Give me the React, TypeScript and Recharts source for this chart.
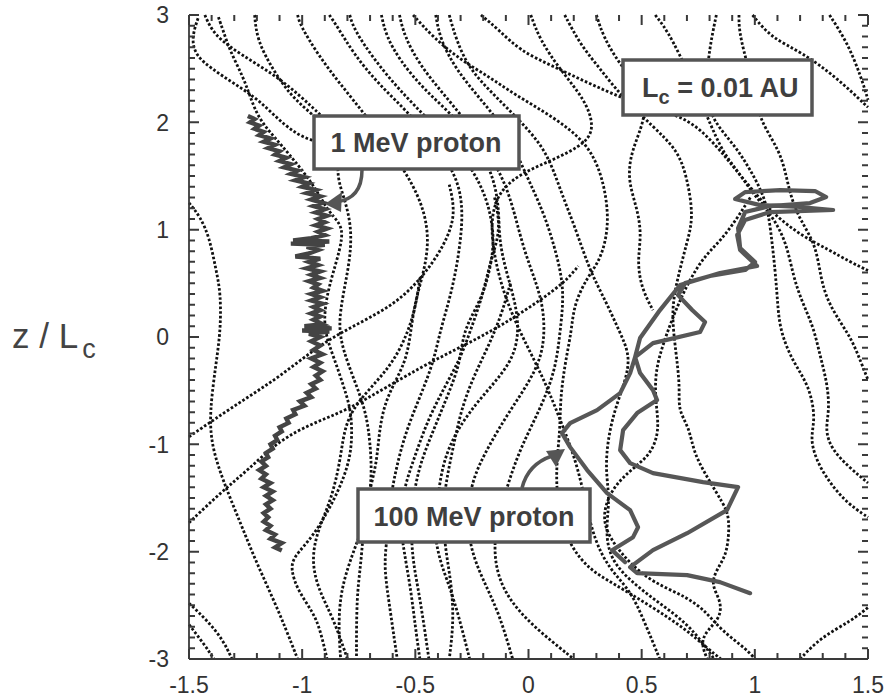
import React from "react"
import { Line, LineChart, XAxis, YAxis } from "recharts"

type Pt = [number, number]

// axis ticks
const xMajorTicks = [-1.5, -1, -0.5, 0, 0.5, 1, 1.5]
const xMinorTicks = [
  -1.5, -1.4, -1.3, -1.2, -1.1, -1, -0.9, -0.8, -0.7, -0.6, -0.5, -0.4, -0.3, -0.2, -0.1, 0,
  0.1, 0.2, 0.3, 0.4, 0.5, 0.6, 0.7, 0.8, 0.9, 1, 1.1, 1.2, 1.3, 1.4, 1.5,
]
const yMajorTicks = [-3, -2, -1, 0, 1, 2, 3]
const yMinorTicks = [
  -3, -2.9, -2.8, -2.7, -2.6, -2.5, -2.4, -2.3, -2.2, -2.1, -2, -1.9, -1.8, -1.7, -1.6, -1.5,
  -1.4, -1.3, -1.2, -1.1, -1, -0.9, -0.8, -0.7, -0.6, -0.5, -0.4, -0.3, -0.2, -0.1, 0, 0.1,
  0.2, 0.3, 0.4, 0.5, 0.6, 0.7, 0.8, 0.9, 1, 1.1, 1.2, 1.3, 1.4, 1.5, 1.6, 1.7, 1.8, 1.9, 2,
  2.1, 2.2, 2.3, 2.4, 2.5, 2.6, 2.7, 2.8, 2.9, 3,
]

// dotted field lines, [x, z/Lc]
const fl01: Pt[] = [[-1.37, 2.98], [-1.35, 2.86], [-1.32, 2.67], [-1.26, 2.42], [-1.23, 2.24], [-1.19, 2.02], [-1.1, 1.81], [-0.95, 1.43], [-0.89, 1.18], [-0.83, 1.06], [-0.82, 0.93], [-0.85, 0.69], [-0.89, 0.41], [-0.91, 0.09], [-0.86, -0.19], [-0.8, -0.56], [-0.78, -0.75], [-0.78, -1.12], [-0.85, -1.49], [-0.95, -1.86], [-1.04, -2.05], [-1.05, -2.17], [-1.02, -2.36], [-0.95, -2.57], [-0.92, -2.73], [-0.89, -3]]
const fl02: Pt[] = [[-1.46, 2.97], [-1.49, 2.78], [-1.47, 2.62], [-1.4, 2.5], [-1.3, 2.36], [-1.19, 2.21], [-1.08, 1.97], [-0.97, 1.82], [-0.83, 1.79]]
const fl03: Pt[] = [[-1.43, 3], [-1.39, 2.81], [-1.27, 2.63], [-1.12, 2.44], [-1.01, 2.25], [-0.92, 2.07]]
const fl04: Pt[] = [[-1.21, 3], [-1.2, 2.77], [-1.13, 2.49], [-1.05, 2.25], [-0.97, 2.1], [-0.88, 1.93]]
const fl05: Pt[] = [[-1.5, 1.25], [-1.45, 1.12], [-1.41, 0.93], [-1.38, 0.62], [-1.36, 0.41], [-1.36, 0.07], [-1.38, -0.24], [-1.41, -0.71], [-1.4, -1.02], [-1.35, -1.33], [-1.32, -1.49], [-1.26, -1.8], [-1.2, -2.11], [-1.13, -2.43], [-1.07, -2.73], [-1.02, -3]]
const fl06: Pt[] = [[-1.5, -0.93], [-1.39, -0.77], [-1.24, -0.56], [-1.1, -0.37], [-0.95, -0.12], [-0.83, 0.04], [-0.7, 0.18], [-0.57, 0.34], [-0.46, 0.58], [-0.37, 0.86], [-0.32, 1.14], [-0.35, 1.42]]
const fl07: Pt[] = [[-1.5, -1.73], [-1.35, -1.43], [-1.24, -1.24], [-1.1, -0.96], [-0.95, -0.8], [-0.8, -0.68], [-0.63, -0.47], [-0.44, -0.24], [-0.21, 0], [-0.08, 0.16], [0.05, 0.34], [0.16, 0.51], [0.22, 0.66]]
const fl08: Pt[] = [[-1.5, -2.48], [-1.42, -2.64], [-1.35, -2.82], [-1.31, -3]]
const fl09: Pt[] = [[-1.5, -2.68], [-1.43, -2.87], [-1.39, -3]]
const fl10: Pt[] = [[-0.48, 0.55], [-0.5, 0.25], [-0.55, -0.05], [-0.62, -0.3], [-0.72, -0.52], [-0.81, -0.77], [-0.83, -1.14], [-0.87, -1.51], [-0.93, -1.79], [-0.96, -2.07], [-0.93, -2.35], [-0.86, -2.63], [-0.8, -3]]
const fl11: Pt[] = [[-1.02, 3], [-1.01, 2.91], [-0.93, 2.63], [-0.83, 2.35], [-0.72, 2.07], [-0.61, 1.74], [-0.52, 1.46], [-0.46, 1.18], [-0.44, 0.9], [-0.46, 0.62], [-0.5, 0.34], [-0.52, 0.06], [-0.54, -0.24], [-0.63, -0.56], [-0.66, -0.87], [-0.67, -1.18], [-0.71, -1.49], [-0.73, -1.8], [-0.74, -2.11], [-0.76, -2.42], [-0.76, -3]]
const fl12: Pt[] = [[-0.88, 3], [-0.85, 2.91], [-0.77, 2.63], [-0.66, 2.35], [-0.52, 2.07], [-0.39, 1.74], [-0.31, 1.46], [-0.29, 1.18], [-0.3, 0.9], [-0.32, 0.62], [-0.35, 0.34], [-0.39, 0.06], [-0.42, -0.24], [-0.48, -0.56], [-0.54, -0.87], [-0.58, -1.18], [-0.61, -1.49], [-0.62, -1.8], [-0.64, -2.11], [-0.62, -2.42], [-0.58, -3]]
const fl13: Pt[] = [[-0.79, 3], [-0.77, 2.86], [-0.68, 2.58], [-0.57, 2.3], [-0.44, 2.02], [-0.29, 1.7], [-0.21, 1.42], [-0.17, 1.18], [-0.15, 0.9], [-0.17, 0.62], [-0.21, 0.34], [-0.29, 0.06], [-0.3, -0.24], [-0.36, -0.56], [-0.42, -0.87], [-0.48, -1.18], [-0.51, -1.49], [-0.52, -1.8], [-0.51, -2.11], [-0.48, -2.42], [-0.44, -3]]
const fl14: Pt[] = [[-0.65, 3], [-0.63, 2.81], [-0.57, 2.58], [-0.46, 2.3], [-0.32, 2.04], [-0.21, 1.74], [-0.15, 1.46], [-0.13, 1.18], [-0.13, 0.9], [-0.1, 0.62], [-0.06, 0.34], [-0.04, 0.06], [-0.07, -0.24], [-0.21, -0.56], [-0.32, -0.87], [-0.38, -1.18], [-0.4, -1.49], [-0.42, -1.8], [-0.39, -2.11], [-0.33, -2.42], [-0.26, -3]]
const fl15: Pt[] = [[-0.57, 3], [-0.55, 2.81], [-0.48, 2.53], [-0.37, 2.25], [-0.26, 1.97], [-0.17, 1.7], [-0.1, 1.42], [-0.06, 1.14], [-0.02, 0.81], [0.03, 0.53], [0.07, 0.25], [0.07, -0.12], [0.01, -0.4], [-0.09, -0.71], [-0.18, -1.03], [-0.25, -1.33], [-0.27, -1.64], [-0.26, -1.96], [-0.2, -2.27], [-0.13, -2.57], [-0.07, -3]]
const fl16: Pt[] = [[-0.41, 3], [-0.39, 2.77], [-0.32, 2.49], [-0.21, 2.21], [-0.1, 1.93], [-0.04, 1.65], [0.01, 1.42], [0.07, 1.14], [0.12, 0.81], [0.16, 0.44], [0.14, 0.06], [0.12, -0.31], [0.05, -0.68], [-0.04, -1.05], [-0.1, -1.43], [-0.15, -1.8], [-0.15, -2.13], [-0.1, -2.41], [0.01, -2.68], [0.2, -3]]
const fl17: Pt[] = [[-0.51, 3], [-0.42, 2.79], [-0.3, 2.58], [-0.17, 2.42], [-0.07, 2.27], [0.11, 2.05], [0.26, 1.81], [0.33, 1.49], [0.36, 1.06], [0.32, 0.72], [0.26, 0.56], [0.2, 0.3], [0.19, 0.05], [0.16, -0.26], [0.14, -0.59], [0.14, -0.87], [0.12, -1.24], [0.13, -1.61], [0.18, -1.94], [0.27, -2.17], [0.37, -2.29], [0.55, -2.52], [0.7, -2.73], [0.79, -2.9], [0.85, -3]]
const fl18: Pt[] = [[0.01, 3], [0.05, 2.77], [0.14, 2.49], [0.25, 2.21], [0.29, 1.97], [0.26, 1.81], [0.11, 1.65], [-0.02, 1.54], [-0.13, 1.37], [-0.17, 1.09], [-0.15, 0.72], [-0.1, 0.34], [-0.02, -0.03], [0.07, -0.4], [0.14, -0.77], [0.21, -1.15], [0.25, -1.52], [0.29, -1.89], [0.36, -2.17], [0.45, -2.36], [0.51, -2.64], [0.58, -3]]
const fl19: Pt[] = [[0.16, 3], [0.23, 2.72], [0.32, 2.49], [0.4, 2.27], [0.55, 1.96], [0.66, 1.74], [0.7, 1.49], [0.73, 1.12], [0.7, 0.88], [0.66, 0.56], [0.63, 0.25], [0.65, -0.12], [0.67, -0.47], [0.66, -0.68], [0.71, -0.84], [0.73, -1.08], [0.79, -1.31], [0.86, -1.55], [0.89, -1.68], [0.88, -1.99], [0.85, -2.11], [0.8, -2.29], [0.85, -2.45], [0.85, -2.61], [0.79, -2.73], [0.76, -2.85], [0.79, -3]]
const fl20: Pt[] = [[-0.21, 3], [-0.13, 2.86], [-0.04, 2.67], [0.11, 2.52], [0.26, 2.37], [0.41, 2.23], [0.54, 2.13], [0.71, 2.04], [0.84, 1.76], [0.91, 1.57], [0.99, 1.37], [1.08, 1.15], [1.2, 0.95], [1.33, 0.81], [1.42, 0.7], [1.5, 0.62]]
const fl21: Pt[] = [[-0.35, 3], [-0.32, 2.77], [-0.26, 2.49], [-0.15, 2.25], [-0.04, 2.02], [0.08, 1.74], [0.14, 1.37], [0.21, 1], [0.27, 0.62], [0.34, 0.34], [0.4, 0.06], [0.45, -0.17], [0.43, -0.4], [0.38, -0.68], [0.35, -0.96], [0.34, -1.24], [0.36, -1.52], [0.34, -1.8], [0.36, -2.08], [0.47, -2.31], [0.58, -2.48], [0.7, -2.67], [0.77, -2.85], [0.82, -3]]
const fl22: Pt[] = [[0.99, 3], [1.07, 2.79], [1.21, 2.65], [1.36, 2.42], [1.5, 2.14]]
const fl23: Pt[] = [[1.33, 3], [1.41, 2.74], [1.47, 2.42], [1.5, 2.21]]
const fl24: Pt[] = [[0.56, 3], [0.63, 2.81], [0.76, 2.21], [0.85, 1.74], [0.92, 1.56], [0.99, 1.34], [1.08, 1.12], [1.14, 0.88], [1.17, 0.56], [1.21, 0.32], [1.26, 0.09], [1.29, -0.19], [1.32, -0.43], [1.33, -0.68], [1.31, -0.87], [1.34, -1.05], [1.42, -1.22], [1.5, -1.36]]
const fl25: Pt[] = [[0.93, 3], [0.93, 2.81], [1, 2.3], [1.02, 2.02], [1.11, 1.74], [1.14, 1.49], [1.16, 1.3], [1.2, 1.09], [1.27, 0.86], [1.29, 0.56], [1.32, 0.34], [1.38, 0.13], [1.43, -0.03], [1.47, -0.24], [1.5, -0.4]]
const fl26: Pt[] = [[0.83, 3], [0.8, 2.7], [0.78, 2.3], [0.81, 2.02], [0.91, 1.79], [0.98, 1.56], [1.05, 1.28], [1.07, 1], [1.09, 0.62], [1.1, 0.34], [1.11, 0.06], [1.17, -0.24], [1.24, -0.45], [1.27, -0.77], [1.24, -0.96], [1.29, -1.24], [1.38, -1.49], [1.45, -1.61], [1.5, -1.68]]
const fl27: Pt[] = [[1.2, -3], [1.29, -2.8], [1.43, -2.64], [1.5, -2.52]]
const fl28: Pt[] = [[-0.8, 1.9], [-0.86, 1.56], [-0.81, 1.28], [-0.78, 1], [-0.79, 0.7], [-0.82, 0.39], [-0.84, 0.11], [-0.82, -0.12], [-0.77, -0.4], [-0.72, -0.68], [-0.7, -0.96], [-0.69, -1.33], [-0.72, -1.71], [-0.78, -2.03], [-0.83, -2.36], [-0.84, -2.69], [-0.83, -3]]
const fl29: Pt[] = [[0.98, 1.3], [0.92, 1.1], [0.85, 0.9], [0.78, 0.76], [0.71, 0.53], [0.65, 0.25], [0.6, -0.03], [0.56, -0.31], [0.56, -0.59], [0.58, -0.87], [0.54, -1.1], [0.45, -1.24], [0.36, -1.43], [0.32, -1.71], [0.38, -1.94], [0.45, -2.11], [0.55, -2.29], [0.7, -2.42], [0.79, -2.57], [0.85, -2.73], [0.97, -2.92], [1, -3]]
const fl30: Pt[] = [[-0.15, 1.3], [-0.12, 1], [-0.17, 0.7], [-0.2, 0.4], [-0.25, 0.1], [-0.3, -0.2], [-0.38, -0.5], [-0.45, -0.8], [-0.5, -1.1], [-0.55, -1.4], [-0.57, -1.7], [-0.55, -2], [-0.52, -2.35], [-0.5, -2.7], [-0.48, -3]]
const fl31: Pt[] = [[-0.08, 0.5], [-0.12, 0.2], [-0.18, -0.1], [-0.25, -0.4], [-0.3, -0.7], [-0.33, -1], [-0.36, -1.3], [-0.38, -1.6], [-0.37, -1.95], [-0.34, -2.3], [-0.33, -2.65], [-0.35, -3]]
const fl32: Pt[] = [[0.3, 3], [0.33, 2.8], [0.4, 2.55], [0.48, 2.35], [0.52, 2.15], [0.5, 1.95], [0.45, 1.7], [0.44, 1.45], [0.48, 1.2], [0.5, 0.95], [0.48, 0.7], [0.5, 0.45], [0.55, 0.25]]

const fieldLines = [fl01, fl02, fl03, fl04, fl05, fl06, fl07, fl08, fl09, fl10, fl11, fl12, fl13, fl14, fl15, fl16, fl17, fl18, fl19, fl20, fl21, fl22, fl23, fl24, fl25, fl26, fl27, fl28, fl29, fl30, fl31, fl32]

// 1 MeV proton orbit (jittery guiding-centre track)
const proton1MeV: Pt[] = [
  [-1.24, 2.06], [-1.21, 2.03], [-1.23, 2.0], [-1.19, 1.97], [-1.21, 1.94], [-1.17, 1.91], [-1.19, 1.88], [-1.14, 1.85],
  [-1.17, 1.82], [-1.12, 1.79], [-1.15, 1.76], [-1.1, 1.73], [-1.12, 1.7], [-1.07, 1.67], [-1.1, 1.64], [-1.05, 1.61],
  [-1.08, 1.58], [-1.02, 1.55], [-1.05, 1.52], [-0.99, 1.49], [-1.03, 1.46], [-0.97, 1.43], [-1.0, 1.4], [-0.94, 1.37],
  [-0.98, 1.34], [-0.92, 1.31], [-0.96, 1.28], [-0.91, 1.25], [-0.95, 1.22], [-0.9, 1.19], [-0.94, 1.16], [-0.89, 1.13],
  [-0.93, 1.1], [-0.9, 1.07], [-0.94, 1.04], [-0.89, 1.01], [-0.93, 0.98], [-0.9, 0.95], [-0.96, 0.92], [-1.04, 0.9],
  [-0.88, 0.89], [-1.05, 0.87], [-0.9, 0.86], [-0.98, 0.84], [-0.93, 0.81], [-0.97, 0.78], [-1.03, 0.75], [-0.92, 0.73],
  [-0.97, 0.7], [-0.93, 0.67], [-0.98, 0.64], [-0.92, 0.61], [-0.96, 0.58], [-0.92, 0.55], [-0.97, 0.52], [-0.93, 0.49],
  [-0.95, 0.46], [-0.91, 0.43], [-0.96, 0.4], [-0.92, 0.37], [-0.96, 0.34], [-0.91, 0.31], [-0.95, 0.28], [-0.92, 0.25],
  [-0.96, 0.22], [-0.92, 0.19], [-0.95, 0.16], [-0.91, 0.12], [-0.99, 0.1], [-0.87, 0.08], [-1.0, 0.06], [-0.88, 0.05],
  [-0.97, 0.03], [-0.92, 0.0], [-0.96, -0.04], [-0.92, -0.08], [-0.95, -0.12], [-0.91, -0.16], [-0.96, -0.2], [-0.92, -0.24],
  [-0.95, -0.28], [-0.91, -0.32], [-0.94, -0.36], [-0.92, -0.4], [-0.96, -0.44], [-0.94, -0.48], [-0.98, -0.52], [-0.96, -0.56],
  [-1.01, -0.6], [-0.99, -0.64], [-1.04, -0.68], [-1.03, -0.72], [-1.07, -0.76], [-1.06, -0.8], [-1.1, -0.84], [-1.09, -0.88],
  [-1.12, -0.92], [-1.11, -0.96], [-1.14, -1.0], [-1.13, -1.04], [-1.16, -1.08], [-1.15, -1.12], [-1.18, -1.16], [-1.16, -1.2],
  [-1.19, -1.24], [-1.16, -1.28], [-1.18, -1.32], [-1.14, -1.36], [-1.17, -1.4], [-1.13, -1.44], [-1.16, -1.48], [-1.13, -1.52],
  [-1.16, -1.56], [-1.14, -1.6], [-1.17, -1.64], [-1.15, -1.68], [-1.17, -1.72], [-1.14, -1.76], [-1.16, -1.8], [-1.12, -1.84],
  [-1.14, -1.88], [-1.09, -1.92], [-1.12, -1.96], [-1.09, -1.99],
]

// 100 MeV proton orbit
const proton100MeV: Pt[] = [
  [0.979, -2.387], [0.846, -2.284], [0.701, -2.219], [0.48, -2.2], [0.449, -2.144], [0.55, -1.986], [0.701, -1.828],
  [0.877, -1.613], [0.926, -1.399], [0.771, -1.352], [0.55, -1.268], [0.449, -1.175], [0.405, -1.054], [0.418, -0.868],
  [0.48, -0.709], [0.568, -0.588], [0.55, -0.495], [0.493, -0.336], [0.471, -0.187], [0.493, -0.01], [0.581, 0.251],
  [0.67, 0.484], [0.846, 0.596], [1.01, 0.661], [0.935, 0.81], [0.922, 0.95], [0.957, 1.09], [1.067, 1.164],
  [1.346, 1.183], [1.2, 1.211], [1.023, 1.229], [0.913, 1.285], [0.957, 1.35], [1.112, 1.369], [1.266, 1.36],
  [1.315, 1.304], [1.244, 1.248], [1.067, 1.22], [0.957, 1.164], [0.926, 1.015], [0.935, 0.829], [1.001, 0.698],
  [0.957, 0.624], [0.802, 0.568], [0.692, 0.502], [0.661, 0.39], [0.723, 0.251], [0.78, 0.139], [0.758, 0.046],
  [0.55, -0.057], [0.471, -0.187], [0.449, -0.336], [0.405, -0.523], [0.303, -0.681], [0.184, -0.802], [0.148, -0.896],
  [0.184, -1.026], [0.259, -1.24], [0.347, -1.455], [0.449, -1.613], [0.484, -1.772], [0.462, -1.865], [0.369, -1.986],
  [0.427, -2.098],
]

const rows = (pts: Pt[]) => pts.map(([x, z]) => ({ x, z }))

const AX = "#3a3a3a"
const FONT = "'Liberation Sans', Arial, sans-serif"
const near = (list: number[], v: number) => list.some((m) => Math.abs(m - v) < 1e-6)

// plot box: matches the chart margins and axis sizes below
const PL = 189
const PR = 868
const PT = 15
const PB = 659
const sx = (x: number) => PL + ((x + 1.5) / 3) * (PR - PL)
const sz = (z: number) => PT + ((3 - z) / 6) * (PB - PT)

function BottomLabel(props: any) {
  const { x, y, payload } = props
  return (
    <text x={x} y={y + 34} textAnchor="middle" fontSize={23} fill="#333" fontFamily={FONT}>
      {String(payload.value)}
    </text>
  )
}

function LeftLabel(props: any) {
  const { x, y, payload } = props
  return (
    <text x={x - 20} y={y} dy="0.36em" textAnchor="end" fontSize={23} fill="#333" fontFamily={FONT}>
      {String(payload.value)}
    </text>
  )
}

function FrameTicks() {
  const segs: string[] = []
  xMinorTicks.forEach((v) => {
    const len = near(xMajorTicks, v) ? 10 : 6
    const x = sx(v)
    segs.push(`M${x},${PB}V${PB - len}`, `M${x},${PT}V${PT + len}`)
  })
  yMinorTicks.forEach((v) => {
    const len = near(yMajorTicks, v) ? 10 : 6
    const y = sz(v)
    segs.push(`M${PL},${y}H${PL + len}`, `M${PR},${y}H${PR - len}`)
  })
  return <path d={segs.join("")} stroke={AX} strokeWidth={2} fill="none" />
}

export default function App() {
  return (
    <div style={{ position: "absolute", left: 0, top: 0, width: 890, height: 699, background: "#fff" }}>
      <LineChart width={890} height={699} margin={{ top: PT, right: 890 - PR, bottom: 0, left: 0 }}>
        <XAxis
          xAxisId="b"
          type="number"
          dataKey="x"
          domain={[-1.5, 1.5]}
          ticks={xMajorTicks}
          interval={0}
          height={699 - PB}
          tickSize={0}
          tickMargin={0}
          tickLine={false}
          axisLine={{ stroke: AX, strokeWidth: 1.8 }}
          tick={(p: any) => <BottomLabel {...p} />}
        />
        <XAxis
          xAxisId="t"
          orientation="top"
          type="number"
          dataKey="x"
          domain={[-1.5, 1.5]}
          ticks={xMajorTicks}
          height={0}
          tick={false}
          tickLine={false}
          axisLine={{ stroke: AX, strokeWidth: 1.8 }}
        />
        <YAxis
          yAxisId="l"
          type="number"
          domain={[-3, 3]}
          ticks={yMajorTicks}
          interval={0}
          width={PL}
          tickSize={0}
          tickMargin={0}
          tickLine={false}
          axisLine={{ stroke: AX, strokeWidth: 1.8 }}
          tick={(p: any) => <LeftLabel {...p} />}
        />
        <YAxis
          yAxisId="r"
          orientation="right"
          type="number"
          domain={[-3, 3]}
          ticks={yMajorTicks}
          width={0}
          tick={false}
          tickLine={false}
          axisLine={{ stroke: AX, strokeWidth: 1.8 }}
        />
        {fieldLines.map((pts, i) => (
          <Line
            key={i}
            xAxisId="b"
            yAxisId="l"
            data={rows(pts)}
            dataKey="z"
            type="basis"
            stroke="#111"
            strokeWidth={2.8}
            strokeDasharray="2.6 2"
            dot={false}
            activeDot={false}
            isAnimationActive={false}
          />
        ))}
        <Line
          xAxisId="b"
          yAxisId="l"
          data={rows(proton1MeV)}
          dataKey="z"
          type="linear"
          stroke="#444"
          strokeWidth={4.4}
          dot={false}
          activeDot={false}
          isAnimationActive={false}
        />
        <Line
          xAxisId="b"
          yAxisId="l"
          data={rows(proton100MeV)}
          dataKey="z"
          type="linear"
          stroke="#575757"
          strokeWidth={4.2}
          strokeLinejoin="round"
          strokeLinecap="round"
          dot={false}
          activeDot={false}
          isAnimationActive={false}
        />
      </LineChart>
      <svg width={890} height={699} style={{ position: "absolute", left: 0, top: 0, pointerEvents: "none" }}>
        <FrameTicks />

        <text x={12} y={348} fontSize={35} fill="#444" fontFamily={FONT}>
          z / L
          <tspan fontSize={27} dx={4} dy={10}>c</tspan>
        </text>

        <rect x={314} y={116} width={205} height={53} fill="#fff" stroke="#555" strokeWidth={3.5} />
        <text x={416} y={152} textAnchor="middle" fontSize={27} fontWeight="bold" fill="#3f3f3f" fontFamily={FONT}>
          1 MeV proton
        </text>
        <path d="M 362 170 C 362 190, 353 200, 336 202" fill="none" stroke="#555" strokeWidth={3.5} />
        <polygon points="325,204 342,192 341,212" fill="#555" />

        <rect x={623} y={60} width={189} height={55} fill="#fff" stroke="#555" strokeWidth={3.5} />
        <text x={642} y={97} fontSize={27} fontWeight="bold" fill="#3f3f3f" fontFamily={FONT}>
          L
          <tspan fontSize={20} dy={7}>c</tspan>
          <tspan dy={-7}> = 0.01 AU</tspan>
        </text>

        <rect x={358} y={489} width={232} height={53} fill="#fff" stroke="#555" strokeWidth={3.5} />
        <text x={474} y={526} textAnchor="middle" fontSize={27} fontWeight="bold" fill="#3f3f3f" fontFamily={FONT}>
          100 MeV proton
        </text>
        <path d="M 522 488 Q 528 464 552 456" fill="none" stroke="#555" strokeWidth={3.5} />
        <polygon points="565,449 546,451 556,467" fill="#555" />
      </svg>
    </div>
  )
}
